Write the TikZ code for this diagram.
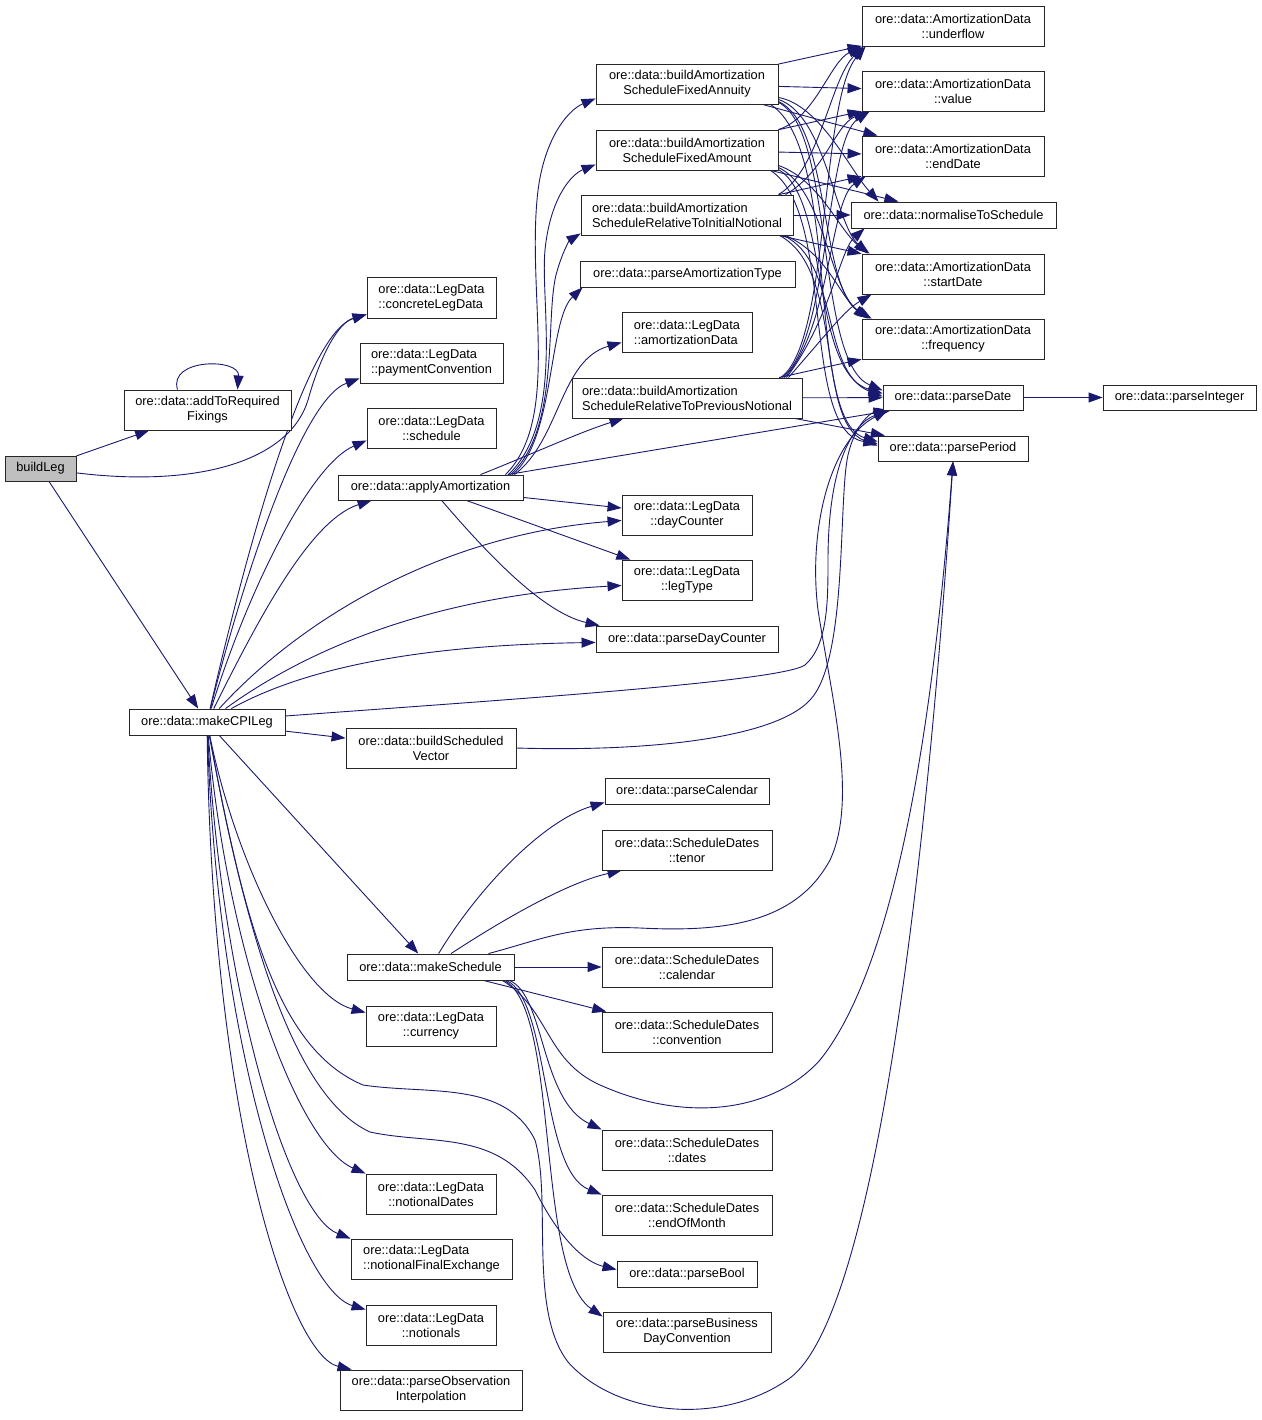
\documentclass[tikz,border=0pt]{standalone}
\usepackage{fontspec}
\setmainfont{Liberation Sans}
\usetikzlibrary{arrows.meta}
\definecolor{edgec}{HTML}{191970}
\definecolor{rootc}{HTML}{BFBFBF}
\pgfdeclarelayer{bgl}
\pgfsetlayers{bgl,main}
\tikzset{
 fn/.style={draw=black!85, line width=0.9pt, fill=white, inner sep=0pt, align=center, font=\fontsize{12.8}{15}\selectfont},
 lft/.style={align=left},
 rootbox/.style={fill=rootc},
 edg/.style={draw=edgec, line width=0.9pt, -{Triangle[length=14pt,width=10pt]}},
}
\newcommand{\gbox}[7][]{\node[fn,#1,minimum width={(#5-#3)*1pt},minimum height={(#6-#4)*1pt}] (#2) at ({(#3+#5)/2},{(#4+#6)/2}) {#7};}
\begin{document}
\begin{tikzpicture}[x=1pt,y=-1pt]
\begin{pgfonlayer}{bgl}
\fill[white] (0,0) rectangle (1261,1420);
\end{pgfonlayer}
\useasboundingbox (0,0) rectangle (1261,1420);
% nodes
\gbox[rootbox]{bl}{5}{456}{76}{481}{buildLeg}
\gbox{af}{124}{390}{291}{430}{ore::data::addToRequired\\Fixings}
\gbox[lft]{cl}{367}{277}{496}{318}{ore::data::LegData\\::concreteLegData}
\gbox[lft]{pc}{360}{343}{503}{383}{ore::data::LegData\\::paymentConvention}
\gbox{sc}{367}{408}{496}{448}{ore::data::LegData\\::schedule}
\gbox{aa}{338}{475}{523}{500}{ore::data::applyAmortization}
\gbox{mc}{129}{709}{285}{735}{ore::data::makeCPILeg}
\gbox{bs}{346}{728}{516}{768}{ore::data::buildScheduled\\Vector}
\gbox{fa}{596}{64}{778}{104}{ore::data::buildAmortization\\ScheduleFixedAnnuity}
\gbox{fm}{596}{130}{778}{170}{ore::data::buildAmortization\\ScheduleFixedAmount}
\gbox[lft]{ri}{581}{195}{793}{235}{ore::data::buildAmortization\\ScheduleRelativeToInitialNotional}
\gbox{pat}{580}{261}{795}{287}{ore::data::parseAmortizationType}
\gbox[lft]{ad}{622}{312}{752}{352}{ore::data::LegData\\::amortizationData}
\gbox[lft]{rp}{572}{378}{802}{418}{ore::data::buildAmortization\\ScheduleRelativeToPreviousNotional}
\gbox{dc}{622}{495}{752}{535}{ore::data::LegData\\::dayCounter}
\gbox{lt}{622}{560}{752}{600}{ore::data::LegData\\::legType}
\gbox{pdc}{596}{626}{778}{652}{ore::data::parseDayCounter}
\gbox{uf}{862}{6}{1044}{46}{ore::data::AmortizationData\\::underflow}
\gbox{va}{862}{71}{1044}{111}{ore::data::AmortizationData\\::value}
\gbox{ed}{862}{136}{1044}{176}{ore::data::AmortizationData\\::endDate}
\gbox{ns}{851}{202}{1056}{228}{ore::data::normaliseToSchedule}
\gbox{sd}{862}{254}{1044}{294}{ore::data::AmortizationData\\::startDate}
\gbox{fq}{862}{319}{1044}{359}{ore::data::AmortizationData\\::frequency}
\gbox{pd}{883}{385}{1023}{410}{ore::data::parseDate}
\gbox{pp}{878}{436}{1028}{461}{ore::data::parsePeriod}
\gbox{pint}{1103}{385}{1256}{410}{ore::data::parseInteger}
\gbox{pcal}{605}{778}{769}{804}{ore::data::parseCalendar}
\gbox{tn}{602}{830}{772}{870}{ore::data::ScheduleDates\\::tenor}
\gbox{ms}{347}{954}{514}{980}{ore::data::makeSchedule}
\gbox{ca}{602}{947}{772}{987}{ore::data::ScheduleDates\\::calendar}
\gbox{cv}{602}{1012}{772}{1052}{ore::data::ScheduleDates\\::convention}
\gbox{cu}{366}{1006}{496}{1046}{ore::data::LegData\\::currency}
\gbox{dt}{602}{1130}{772}{1170}{ore::data::ScheduleDates\\::dates}
\gbox{eom}{602}{1195}{772}{1235}{ore::data::ScheduleDates\\::endOfMonth}
\gbox{pb}{617}{1261}{757}{1287}{ore::data::parseBool}
\gbox{pbd}{603}{1312}{771}{1352}{ore::data::parseBusiness\\DayConvention}
\gbox{nd}{366}{1174}{496}{1214}{ore::data::LegData\\::notionalDates}
\gbox[lft]{nf}{351}{1239}{512}{1279}{ore::data::LegData\\::notionalFinalExchange}
\gbox{nt}{366}{1305}{496}{1345}{ore::data::LegData\\::notionals}
\gbox{po}{340}{1370}{522}{1410}{ore::data::parseObservation\\Interpolation}
% edges
\begin{pgfonlayer}{bgl}
% buildLeg
\draw[edg] (bl) -- (af);
\draw[edg] (bl) -- (mc);
\draw[edg] (bl) .. controls (200,488) and (290,460) .. (308,400) .. controls (322,350) and (340,322) .. ([shift={(0,-4)}]cl.south west);
\draw[edg] ([shift={(-30,0)}]af.north) .. controls (168,358) and (240,358) .. ([shift={(30,0)}]af.north);
% makeCPILeg upwards
\draw[edg] (mc) .. controls (235,600) and (300,335) .. ([shift={(0,-4)}]cl.south west);
\draw[edg] (mc) .. controls (240,590) and (300,400) .. ([shift={(0,-5)}]pc.south west);
\draw[edg] (mc) .. controls (248,590) and (310,465) .. ([shift={(0,-8)}]sc.south west);
\draw[edg] (mc) .. controls (258,620) and (310,520) .. ([shift={(34,0)}]aa.south west);
\draw[edg] (mc) .. controls (300,620) and (440,535) .. ([shift={(0,-15)}]dc.south west);
\draw[edg] (mc) .. controls (320,640) and (450,595) .. ([shift={(0,-15)}]lt.south west);
\draw[edg] (mc) .. controls (310,665) and (430,645) .. ([shift={(0,-10)}]pdc.south west);
\draw[edg] ([shift={(0,-6)}]mc.east) .. controls (500,700) and (780,682) .. (805,665) .. controls (828,645) and (828,600) .. (828,560) .. controls (828,470) and (850,425) .. ([shift={(5,0)}]pd.south west);
\draw[edg] (mc) -- (bs);
\draw[edg] (mc) -- (ms);
% makeCPILeg downwards
\draw[edg] (mc) .. controls (235,860) and (300,995) .. ([shift={(0,7)}]cu.north west);
\draw[edg] (mc) .. controls (228,960) and (300,1145) .. (nd.north west);
\draw[edg] (mc) .. controls (222,1000) and (290,1215) .. (nf.north west);
\draw[edg] (mc) .. controls (218,1060) and (300,1290) .. ([shift={(0,5)}]nt.north west);
\draw[edg] (mc) .. controls (212,1120) and (290,1355) .. ([shift={(12,0)}]po.north west);
\draw[edg] (mc) .. controls (250,960) and (300,1100) .. (370,1132) .. controls (430,1145) and (495,1130) .. (535,1190) .. controls (560,1240) and (585,1262) .. ([shift={(0,9)}]pb.north west);
\draw[edg] (mc) .. controls (245,930) and (280,1050) .. (363,1085) .. controls (430,1095) and (505,1080) .. (535,1140) .. controls (552,1200) and (528,1310) .. (568,1362) .. controls (615,1415) and (720,1428) .. (790,1378) .. controls (880,1310) and (930,820) .. (pp.south);
% buildScheduledVector
\draw[edg] (bs.east) .. controls (650,752) and (775,738) .. (810,700) .. controls (848,660) and (838,500) .. (848,455) .. controls (855,425) and (870,413) .. ([shift={(5,0)}]pd.south west);
% makeSchedule
\draw[edg] (ms) .. controls (480,885) and (545,820) .. ([shift={(0,-2)}]pcal.south west);
\draw[edg] (ms) .. controls (510,915) and (570,882) .. ([shift={(20,0)}]tn.south west);
\draw[edg] (ms) -- (ca);
\draw[edg] (ms) -- (cv);
\draw[edg] ([shift={(-5,0)}]ms.south east) .. controls (545,995) and (540,1100) .. (dt.north west);
\draw[edg] ([shift={(-8,0)}]ms.south east) .. controls (550,1000) and (540,1170) .. (eom.north west);
\draw[edg] ([shift={(-10,0)}]ms.south east) .. controls (560,1010) and (535,1270) .. ([shift={(0,5)}]pbd.north west);
\draw[edg] ([shift={(58,0)}]ms.north) .. controls (540,940) and (570,925) .. (640,928) .. controls (720,932) and (795,925) .. (830,860) .. controls (858,800) and (832,700) .. (818,610) .. controls (808,530) and (830,440) .. ([shift={(5,0)}]pd.south west);
\draw[edg] ([shift={(-12,0)}]ms.south east) .. controls (550,1010) and (545,1060) .. (600,1085) .. controls (690,1125) and (775,1110) .. (820,1060) .. controls (900,960) and (935,700) .. (pp.south);
% applyAmortization
\draw[edg] ([shift={(75,0)}]aa.north) .. controls (560,420) and (528,300) .. (537,200) .. controls (542,140) and (568,110) .. ([shift={(0,-6)}]fa.south west);
\draw[edg] ([shift={(78,0)}]aa.north) .. controls (565,420) and (540,300) .. (545,250) .. controls (550,200) and (570,175) .. ([shift={(0,-6)}]fm.south west);
\draw[edg] ([shift={(80,0)}]aa.north) .. controls (560,430) and (545,320) .. (556,275) .. controls (562,252) and (570,240) .. ([shift={(0,-2)}]ri.south west);
\draw[edg] ([shift={(82,0)}]aa.north) .. controls (555,440) and (548,320) .. ([shift={(3,0)}]pat.south west);
\draw[edg] ([shift={(84,0)}]aa.north) .. controls (560,440) and (560,360) .. ([shift={(0,-10)}]ad.south west);
\draw[edg] ([shift={(50,0)}]aa.north) .. controls (530,455) and (580,432) .. ([shift={(52,0)}]rp.south west);
\draw[edg] (aa) -- ([shift={(8,0)}]pd.south west);
\draw[edg] (aa) -- (dc);
\draw[edg] (aa) -- (lt);
\draw[edg] (aa) .. controls (480,545) and (540,612) .. ([shift={(4,0)}]pdc.north west);
% FixedAnnuity
\draw[edg] (fa) -- (uf);
\draw[edg] (fa) -- (va);
\draw[edg] (fa) -- (ed);
\draw[edg] ([shift={(0,-7)}]fa.south east) .. controls (820,105) and (850,170) .. ([shift={(28,0)}]ns.north west);
\draw[edg] ([shift={(0,-5)}]fa.south east) .. controls (825,115) and (835,222) .. ([shift={(6,0)}]sd.north west);
\draw[edg] ([shift={(0,-3)}]fa.south east) .. controls (830,125) and (820,282) .. ([shift={(6,0)}]fq.north west);
\draw[edg] ([shift={(0,-2)}]fa.south east) .. controls (835,130) and (815,362) .. ([shift={(0,-20)}]pd.south west);
\draw[edg] ([shift={(-8,0)}]fa.south east) .. controls (842,150) and (805,420) .. ([shift={(0,6)}]pp.north west);
% FixedAmount
\draw[edg] (fm.north east) .. controls (815,118) and (830,62) .. (uf.south west);
\draw[edg] (fm) -- (va);
\draw[edg] (fm) -- (ed);
\draw[edg] (fm) -- (ns);
\draw[edg] ([shift={(0,-5)}]fm.south east) .. controls (820,180) and (840,232) .. ([shift={(8,0)}]sd.north west);
\draw[edg] ([shift={(0,-3)}]fm.south east) .. controls (825,190) and (830,292) .. ([shift={(8,0)}]fq.north west);
\draw[edg] ([shift={(0,-1)}]fm.south east) .. controls (830,200) and (810,372) .. ([shift={(0,-17)}]pd.south west);
\draw[edg] ([shift={(-8,0)}]fm.south east) .. controls (836,212) and (800,432) .. ([shift={(0,8)}]pp.north west);
% RelativeToInitialNotional
\draw[edg] ([shift={(-15,0)}]ri.north east) .. controls (820,170) and (830,80) .. ([shift={(2,0)}]uf.south west);
\draw[edg] ([shift={(-8,0)}]ri.north east) .. controls (825,172) and (835,125) .. ([shift={(6,0)}]va.south west);
\draw[edg] (ri) -- (ed);
\draw[edg] (ri) -- (ns);
\draw[edg] (ri) -- (sd);
\draw[edg] ([shift={(-8,0)}]ri.south east) .. controls (830,255) and (840,300) .. ([shift={(10,0)}]fq.north west);
\draw[edg] ([shift={(-10,0)}]ri.south east) .. controls (840,262) and (820,372) .. ([shift={(0,-14)}]pd.south west);
\draw[edg] ([shift={(-14,0)}]ri.south east) .. controls (845,270) and (815,422) .. ([shift={(0,10)}]pp.north west);
% RelativeToPreviousNotional
\draw[edg] ([shift={(-22,0)}]rp.north east) .. controls (830,345) and (820,100) .. ([shift={(4,0)}]uf.south west);
\draw[edg] ([shift={(-20,0)}]rp.north east) .. controls (830,340) and (825,140) .. ([shift={(8,0)}]va.south west);
\draw[edg] ([shift={(-18,0)}]rp.north east) .. controls (830,330) and (830,200) .. ([shift={(4,0)}]ed.south west);
\draw[edg] ([shift={(-16,0)}]rp.north east) .. controls (830,320) and (840,250) .. ([shift={(14,0)}]ns.south west);
\draw[edg] ([shift={(-14,0)}]rp.north east) .. controls (830,330) and (845,310) .. ([shift={(10,0)}]sd.south west);
\draw[edg] (rp) -- (fq);
\draw[edg] (rp) -- (pd);
\draw[edg] (rp) -- (pp);
% parseDate
\draw[edg] (pd) -- (pint);
\end{pgfonlayer}
\end{tikzpicture}
\end{document}
